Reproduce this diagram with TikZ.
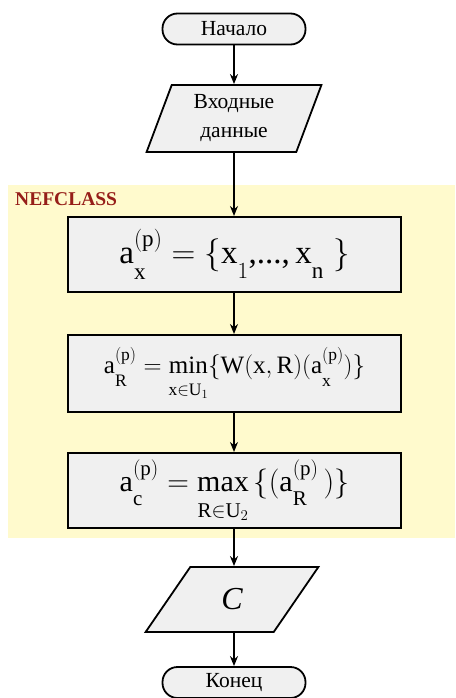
\documentclass[tikz,border=0pt]{standalone}
\usepackage{fix-cm}
\usepackage{fontspec}
\setmainfont{Liberation Serif}
\usetikzlibrary{shapes.geometric,arrows.meta}
\definecolor{bgyellow}{RGB}{255,250,205}
\definecolor{boxgray}{RGB}{240,240,240}
\definecolor{nefred}{RGB}{150,30,25}
\newcommand{\rr}[1]{\mathrm{#1}}
% superscript raised, subscript lowered
\newcommand{\supx}[1]{{#1\rule[-0.12em]{0pt}{0pt}}}
\newcommand{\subx}[1]{{#1\rule{0pt}{0.78em}}}
\newcommand{\limx}[1]{{\rule{0pt}{0.8em}#1}}
\begin{document}
\begin{tikzpicture}[x=1pt,y=-1pt,
  term/.style={draw, line width=1.8pt, fill=boxgray, rounded corners=15pt,
    minimum width=143pt, minimum height=31pt, inner sep=0pt,
    font=\fontsize{21.5}{24}\selectfont},
  io/.style={draw, line width=1.8pt, fill=boxgray, trapezium,
    trapezium stretches=true, inner sep=0pt},
  proc/.style={draw, line width=2pt, fill=boxgray, minimum width=333pt,
    inner sep=0pt},
  flow/.style={line width=1.8pt, -{Stealth[length=10pt,width=8pt]}},
]
\useasboundingbox (0,0) rectangle (455,698);
\fill[bgyellow] (8,185) rectangle (455,538);
\node[anchor=base west, font=\fontsize{19.5}{22}\selectfont\bfseries, text=nefred,
  inner sep=0pt] (lbl) at (15,205) {NEFCLASS};

\node[term] (start) at (234,29) {Начало};
\node[io, minimum width=175pt, minimum height=67pt,
  trapezium left angle=71, trapezium right angle=109,
  align=center, font=\fontsize{21.5}{29}\selectfont] (inp) at (234,118.5)
  {Входные\\данные};
\node[proc, minimum height=75pt] (b1) at (234.5,254.5)
  {\fontsize{33}{38}\selectfont
   $\rr{a}_{\subx{\rr{x}}}^{\supx{(\rr{p})}} = \Bigl\{\rr{x}_{\subx{1}}\mbox{,...,}\,\rr{x}_{\subx{\rr{n}}}\;\Bigr\}$};
\node[proc, minimum height=77pt] (b2) at (234.5,373.5)
  {\fontsize{25}{30}\selectfont
   $\rr{a}_{\subx{\rr{R}}}^{\supx{(\rr{p})}} = \min\limits_{\limx{\rr{x}\in\rr{U}_1}}\{\rr{W}(\rr{x},\rr{R})(\rr{a}_{\subx{\rr{x}}}^{\supx{(\rr{p})}})\}$};
\node[proc, minimum height=75pt] (b3) at (234.5,490.5)
  {\fontsize{30}{34}\selectfont
   $\rr{a}_{\subx{\rr{c}}}^{\supx{(\rr{p})}} = \max\limits_{\limx{\rr{R}\in\rr{U}_2}}\,\{(\rr{a}_{\subx{\rr{R}}}^{\supx{(\rr{p})}}\,)\}$};
\node[io, minimum width=173pt, minimum height=65pt,
  trapezium left angle=62, trapezium right angle=118,
  font=\fontsize{32}{36}\selectfont\itshape] (out) at (232,599.5) {C};
\node[term] (stop) at (234,682.5) {Конец};

\draw[flow] (start.south) -- (start.south |- inp.north);
\draw[flow] (inp.south -| start.south) -- (start.south |- b1.north);
\draw[flow] (b1.south -| start.south) -- (start.south |- b2.north);
\draw[flow] (b2.south -| start.south) -- (start.south |- b3.north);
\draw[flow] (b3.south -| start.south) -- (start.south |- out.north);
\draw[flow] (out.south -| start.south) -- (start.south |- stop.north);
\end{tikzpicture}
\end{document}
